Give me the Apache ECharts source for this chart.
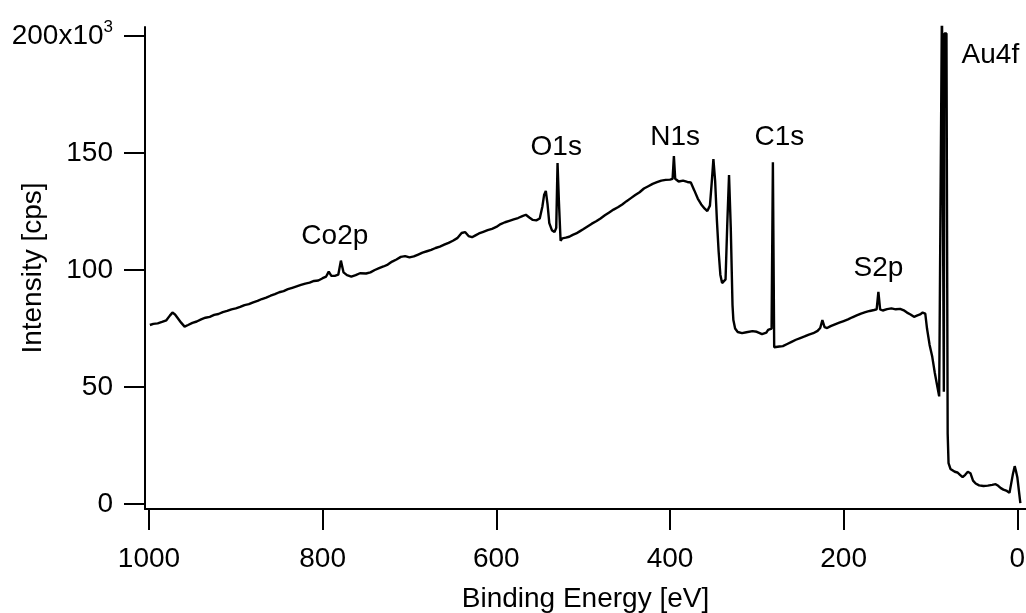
<!DOCTYPE html>
<html lang="en">
<head>
    <meta charset="UTF-8">
    <title>XPS survey</title>
    <script src="https://cdn.jsdelivr.net/npm/echarts@6/dist/echarts.min.js"></script>
    <style>
        html, body { margin: 0; padding: 0; background: #fff; }
        #main { width: 1026px; height: 613px; }
    </style>
</head>
<body>
<div id="main"></div>
<script type="text/javascript">

    // binding energy [eV] and intensity [x10^3 cps]
    var energy = [999, 995, 990, 985, 980, 976, 973, 970, 967, 963, 959, 955, 950, 945, 940, 935, 930, 925, 920, 915,
        910, 905, 900, 895, 890, 885, 880, 875, 870, 865, 860, 855, 850, 845, 840, 835, 830, 825, 820, 815,
        810, 805, 800, 796, 793, 790, 786, 782, 779, 776, 772, 767, 762, 757, 750, 745, 740, 735, 730, 725,
        720, 715, 710, 705, 700, 695, 690, 685, 680, 675, 670, 665, 660, 655, 650, 645, 640, 636, 632, 628,
        624, 620, 615, 610, 605, 600, 595, 590, 585, 580, 575, 570, 566, 562, 558, 554, 550, 547, 545, 543,
        541, 539, 536, 533, 531, 529.5, 528, 526, 524, 520, 516, 512, 508, 504, 500, 495, 490, 485, 480, 475,
        470, 465, 460, 455, 450, 445, 440, 435, 430, 425, 420, 415, 410, 405, 400, 397, 395.5, 394, 390, 385,
        380, 376, 372, 368, 364, 360, 357, 354, 352, 350, 348, 346, 344, 342, 340, 338, 336, 334, 332, 330,
        328, 327, 325, 322, 317, 312, 305, 300, 294, 289, 287, 283, 281.5, 280, 278, 274, 270, 265, 260, 255,
        250, 245, 240, 235, 230, 227, 224.5, 222, 219, 215, 210, 205, 200, 195, 190, 185, 180, 175, 170, 165,
        162, 160, 158, 155, 150, 145, 140, 135, 130, 127, 123, 119, 115, 112, 109, 106, 104, 101, 98, 95,
        92, 90, 88.4, 86.8, 85.4, 84.6, 84, 81.6, 80.2, 79.2, 77, 75, 72, 69, 66, 63, 60, 57, 54, 51,
        48, 44, 39, 34, 29, 25, 22, 19, 16, 12, 9, 7, 5, 3, 1.5, 0, -3.5];
    var intensity = [76.5, 77, 77.2, 77.8, 78.5, 80.5, 81.8, 81, 79.5, 77.5, 75.8, 76.5, 77.4, 78, 78.9, 79.6, 80, 80.8, 81.2, 82,
        82.5, 83.2, 83.6, 84.2, 85, 85.4, 86.2, 86.8, 87.6, 88.2, 89, 89.7, 90.5, 91, 91.8, 92.4, 93, 93.6, 94.2, 94.6,
        95.3, 95.5, 96.5, 97.2, 99.3, 97.5, 97.5, 98, 104, 99, 97.8, 97.2, 97.8, 98.6, 98.5, 99, 100, 100.8, 101.5, 102.3,
        103.6, 104.5, 105.6, 105.9, 105.4, 105.8, 106.6, 107.4, 108, 108.6, 109.4, 110, 110.8, 111.6, 112.5, 113.6, 115.8, 116.2, 114.5, 114,
        114.8, 115.6, 116.3, 117, 117.6, 118.4, 119.6, 120.4, 121, 121.6, 122.2, 123, 123.6, 122.4, 121.4, 121.2, 122, 127, 132, 133.8,
        128, 120, 117, 116.2, 118, 145.7, 130, 112.5, 113.5, 113.8, 114.2, 115, 115.6, 116.5, 117.4, 118.6, 119.8, 120.8, 122, 123.4,
        124.6, 125.8, 126.8, 128, 129.4, 130.7, 132, 133.2, 134.8, 135.8, 136.8, 137.5, 138.2, 138.5, 138.6, 138.9, 148.7, 139, 137.8, 138.2,
        137.6, 137.4, 134, 130.5, 128, 126.2, 125.2, 127.5, 137, 147.4, 138, 121.4, 108, 98, 94.4, 94.2, 96, 120, 140.6, 118,
        85, 78.6, 75, 73.5, 73, 73.4, 73.9, 73.6, 72.6, 73.2, 74.4, 75, 146, 67, 67, 67.3, 67.5, 68.4, 69.3, 70.2,
        70.9, 71.6, 72.4, 73, 74, 75.2, 78.6, 75.6, 75.2, 76, 76.8, 77.5, 78.2, 78.9, 79.8, 80.6, 81.4, 82, 82.5, 82.9,
        83.2, 90.6, 83.2, 82.7, 83.3, 83.6, 83.2, 83.4, 82.6, 81.8, 81, 80, 80.6, 81, 81.8, 81.4, 75, 68, 63, 56,
        50, 46, 45.3, 215, 215, 48, 201, 201, 30, 17.5, 15, 14.5, 13.8, 13.5, 12.5, 11.5, 12.5, 13.8, 13.2, 10,
        8.8, 8, 7.7, 7.9, 8.2, 8.5, 7.8, 6.8, 6.2, 5.6, 4.8, 5.2, 13, 16.2, 14, 11.5, 0.4];

    // peak labels
    var peakNames = ['Co2p', 'O1s', 'N1s', 'C1s', 'S2p', 'Au4f'];
    var peakEnergy = [786, 531, 394, 274, 160, 31];
    var peakLevel = [114.5, 152.5, 156.8, 156.8, 100.9, 191.8];

    var xTicks = [1000, 800, 600, 400, 200, 0];
    var yTicks = [0, 50, 100, 150, 200];

    var spectrum = [];
    for (var i = 0; i < energy.length; i++) {
        spectrum.push([energy[i], intensity[i]]);
    }
    var peaks = [];
    for (var j = 0; j < peakNames.length; j++) {
        peaks.push({value: [peakEnergy[j], peakLevel[j]], name: peakNames[j]});
    }

    var font = '"Liberation Sans", Arial, Helvetica, sans-serif';
    var fs = 28;
    var myChart = echarts.init(document.getElementById('main'));

    var option = {
        backgroundColor: '#fff',
        animation: false,
        grid: {left: 145, right: 0, top: 27, bottom: 104, containLabel: false, outerBoundsMode: 'none'},
        xAxis: {
            type: 'value',
            inverse: true,
            min: -10,
            max: 1004.6,
            name: 'Binding Energy [eV]',
            nameLocation: 'middle',
            nameGap: 76,
            nameMoveOverlap: false,
            nameTextStyle: {color: '#000', fontSize: fs, fontFamily: font},
            axisLine: {onZero: false, lineStyle: {color: '#000', width: 2}},
            axisTick: {show: true, length: 21, lineStyle: {color: '#000', width: 2}, customValues: xTicks},
            axisLabel: {
                color: '#000', fontSize: fs, fontFamily: font, margin: 36, customValues: xTicks,
                formatter: function (v) { return String(v); }
            },
            splitLine: {show: false}
        },
        yAxis: {
            type: 'value',
            min: -2.1,
            max: 203.8,
            name: 'Intensity [cps]',
            nameLocation: 'middle',
            nameGap: 98,
            nameRotate: 90,
            nameMoveOverlap: false,
            nameTextStyle: {color: '#000', fontSize: fs, fontFamily: font},
            axisLine: {show: true, onZero: false, lineStyle: {color: '#000', width: 2}},
            axisTick: {show: true, length: 21, lineStyle: {color: '#000', width: 2}, customValues: yTicks},
            axisLabel: {
                color: '#000', fontSize: fs, fontFamily: font, margin: 32, customValues: yTicks,
                formatter: function (v) {
                    if (v === 200) return '{b|200x10}{s|3}';
                    return String(v);
                },
                rich: {
                    b: {fontSize: fs, fontFamily: font, color: '#000'},
                    s: {fontSize: 17, fontFamily: font, color: '#000', padding: [0, 0, 17, 0]}
                }
            },
            splitLine: {show: false}
        },
        series: [
            {
                type: 'line',
                data: spectrum,
                symbol: 'none',
                clip: true,
                lineStyle: {color: '#000', width: 2.4},
                silent: true
            },
            {
                type: 'scatter',
                data: peaks,
                symbolSize: 0,
                silent: true,
                itemStyle: {opacity: 1},
                label: {
                    show: true,
                    position: 'inside',
                    formatter: '{b}',
                    color: '#000',
                    fontSize: fs,
                    fontFamily: font
                }
            }
        ]
    };

    myChart.setOption(option);
</script>
</body>
</html>
